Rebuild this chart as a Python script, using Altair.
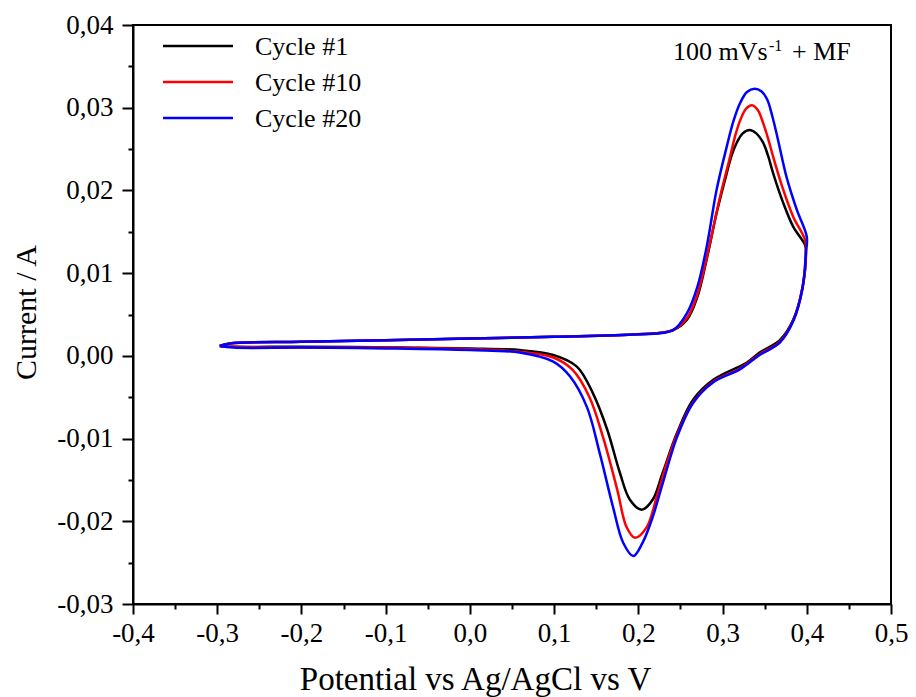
import altair as alt
import pandas as pd

cycles = ["Cycle #1", "Cycle #10", "Cycle #20"]
colors = ["#000000", "#ff0000", "#0000ff"]

# Cycle #1 (forward then reverse scan)
c1_v = [-0.297, -0.285, -0.2, -0.1, 0.0, 0.1, 0.2, 0.241, 0.258, 0.270, 0.281, 0.293, 0.305, 0.311, 0.317, 0.324, 0.332,
        0.340, 0.348, 0.354, 0.360, 0.372, 0.384, 0.398,
        0.399, 0.395, 0.384, 0.368, 0.344, 0.329, 0.289, 0.265, 0.246, 0.229, 0.217, 0.204, 0.190, 0.178,
        0.163, 0.146, 0.127, 0.099, 0.059, 0.0, -0.083, -0.2, -0.281, -0.297]
c1_i = [0.0012, 0.0015, 0.0017, 0.0019, 0.0021, 0.0023, 0.0026, 0.0031, 0.0044, 0.0071, 0.0116, 0.0173, 0.0221, 0.0243, 0.0258, 0.0269, 0.0273,
        0.0269, 0.0258, 0.0242, 0.0221, 0.0185, 0.0156, 0.0134,
        0.0125, 0.0083, 0.0044, 0.0019, 0.0004, -0.0008, -0.0029, -0.0053, -0.0093, -0.0141, -0.0174, -0.0186, -0.0174, -0.0141,
        -0.0089, -0.0045, -0.0013, 0.0001, 0.0007, 0.0009, 0.0010, 0.0011, 0.0011, 0.0012]

# Cycle #10
c10_v = [-0.297, -0.285, -0.2, -0.1, 0.0, 0.1, 0.2, 0.241, 0.258, 0.270, 0.281, 0.297, 0.309, 0.315, 0.321, 0.328, 0.335,
         0.342, 0.348, 0.354, 0.360, 0.372, 0.384, 0.398,
         0.399, 0.395, 0.384, 0.368, 0.344, 0.321, 0.289, 0.265, 0.246, 0.234, 0.222, 0.210, 0.196, 0.186,
         0.175, 0.158, 0.142, 0.122, 0.099, 0.059, 0.0, -0.1, -0.2, -0.281, -0.297]
c10_i = [0.0012, 0.0015, 0.0017, 0.0019, 0.0021, 0.0023, 0.0026, 0.0031, 0.0046, 0.0074, 0.0118, 0.0192, 0.0241, 0.0266, 0.0285, 0.0299, 0.0303,
         0.0297, 0.0282, 0.0263, 0.0241, 0.0201, 0.0168, 0.0140,
         0.0125, 0.0083, 0.0043, 0.0017, 0.0002, -0.0015, -0.0031, -0.0056, -0.0095, -0.0129, -0.0170, -0.0207, -0.0220, -0.0207,
         -0.0162, -0.0098, -0.0050, -0.0017, -0.0002, 0.0005, 0.0008, 0.0010, 0.0010, 0.0011, 0.0012]

# Cycle #20
c20_v = [-0.297, -0.285, -0.2, -0.1, 0.0, 0.1, 0.2, 0.241, 0.258, 0.270, 0.281, 0.293, 0.305, 0.313, 0.321, 0.329, 0.338,
         0.346, 0.353, 0.359, 0.365, 0.376, 0.388, 0.400,
         0.399, 0.395, 0.384, 0.368, 0.344, 0.321, 0.289, 0.265, 0.246, 0.229, 0.217, 0.205, 0.194, 0.182,
         0.170, 0.154, 0.139, 0.119, 0.099, 0.059, 0.0, -0.1, -0.2, -0.281, -0.297]
c20_i = [0.0012, 0.0015, 0.0017, 0.0019, 0.0021, 0.0023, 0.0026, 0.0031, 0.0052, 0.0083, 0.0131, 0.0201, 0.0253, 0.0284, 0.0306, 0.0319, 0.0323,
         0.0320, 0.0310, 0.0290, 0.0265, 0.0216, 0.0177, 0.0144,
         0.0125, 0.0082, 0.0042, 0.0016, 0.0001, -0.0016, -0.0032, -0.0057, -0.0098, -0.0154, -0.0195, -0.0226, -0.0242, -0.0226,
         -0.0183, -0.0117, -0.0062, -0.0025, -0.0007, 0.0004, 0.0007, 0.0009, 0.0010, 0.0010, 0.0012]

x_ticks = [round(-0.4 + 0.05 * k, 2) for k in range(19)]
y_ticks = [round(-0.03 + 0.005 * k, 3) for k in range(15)]

annot_main = "100 mVs"
annot_sup = "-1"
annot_tail = "+ MF"

rows = []
for name, vs, cs in [(cycles[0], c1_v, c1_i), (cycles[1], c10_v, c10_i), (cycles[2], c20_v, c20_i)]:
    for k, (v, c) in enumerate(zip(vs, cs)):
        rows.append({"cycle": name, "potential": v, "current": c, "idx": k})
df = pd.DataFrame(rows)

FONT = "Liberation Serif"
color_scale = alt.Scale(domain=cycles, range=colors)

x_major = "abs(datum.value*10 - round(datum.value*10)) < 1e-6"
y_major = "abs(datum.value*100 - round(datum.value*100)) < 1e-6"

x_axis = alt.Axis(
    values=x_ticks,
    title="Potential vs Ag/AgCl vs V",
    labelExpr=f"{x_major} ? ((datum.value < -1e-9 ? '-' : '') + replace(format(abs(datum.value), '.1f'), '.', ',')) : ''",
    tickSize={"condition": {"test": x_major, "value": 10}, "value": 5},
    grid=False, labelOverlap=False, labelFlush=False,
    labelFont=FONT, labelFontSize=27, labelColor="black", labelPadding=6,
    titleFont=FONT, titleFontSize=33, titleFontWeight="normal", titleColor="black",
    titleBaseline="alphabetic", titleY=85, titleX=342, titleAlign="center",
    domainColor="black", domainWidth=2, tickColor="black", tickWidth=2,
)
y_axis = alt.Axis(
    values=y_ticks,
    title="Current / A",
    labelExpr=f"{y_major} ? ((datum.value < -1e-9 ? '-' : '') + replace(format(abs(datum.value), '.2f'), '.', ',')) : ''",
    tickSize={"condition": {"test": y_major, "value": 11}, "value": 5},
    grid=False, labelOverlap=False, labelFlush=False,
    labelFont=FONT, labelFontSize=27, labelColor="black", labelPadding=9,
    titleFont=FONT, titleFontSize=30, titleFontWeight="normal", titleColor="black",
    titleAngle=-90, titleBaseline="alphabetic", titleX=-98, titleY=287, titleAnchor="middle",
    domainColor="black", domainWidth=2, tickColor="black", tickWidth=2,
)

lines = alt.Chart(df).mark_line(strokeWidth=2.5, interpolate="catmull-rom").encode(
    x=alt.X("potential:Q", scale=alt.Scale(domain=[-0.4, 0.5], nice=False, zero=False), axis=x_axis),
    y=alt.Y("current:Q", scale=alt.Scale(domain=[-0.03, 0.04], nice=False, zero=False), axis=y_axis),
    color=alt.Color("cycle:N", scale=color_scale, legend=None),
    order=alt.Order("idx:Q"),
    detail="cycle:N",
)

leg_df = pd.DataFrame({"cycle": cycles})
leg_y = alt.Y("cycle:N", scale=alt.Scale(type="point", domain=cycles, range=[21, 93], padding=0), axis=None)
leg_lines = alt.Chart(leg_df).mark_rule(strokeWidth=2.5).encode(
    x=alt.value(30), x2=alt.value(100), y=leg_y,
    color=alt.Color("cycle:N", scale=color_scale, legend=None),
)
leg_text = alt.Chart(leg_df).mark_text(align="left", baseline="middle", font=FONT, fontSize=26, color="black", dy=1).encode(
    x=alt.value(122), y=leg_y, text="cycle:N",
)

a_df = pd.DataFrame({"a": [0]})
t1 = alt.Chart(a_df).mark_text(text=annot_main, align="left", baseline="alphabetic", font=FONT, fontSize=26, color="black").encode(
    x=alt.value(540), y=alt.value(35))
t2 = alt.Chart(a_df).mark_text(text=annot_sup, align="left", baseline="alphabetic", font=FONT, fontSize=16, color="black").encode(
    x=alt.value(636), y=alt.value(26))
t3 = alt.Chart(a_df).mark_text(text=annot_tail, align="left", baseline="alphabetic", font=FONT, fontSize=26, color="black").encode(
    x=alt.value(659), y=alt.value(35))

chart = alt.layer(lines, leg_lines, leg_text, t1, t2, t3).resolve_scale(y="independent").properties(
    width=758, height=579,
    autosize=alt.AutoSizeParams(type="none"),
    padding={"left": 133, "top": 25, "right": 25, "bottom": 93},
    background="white",
).configure_view(stroke="black", strokeWidth=2)

chart.save("out.html", embed_options={"renderer": "svg", "actions": False})
